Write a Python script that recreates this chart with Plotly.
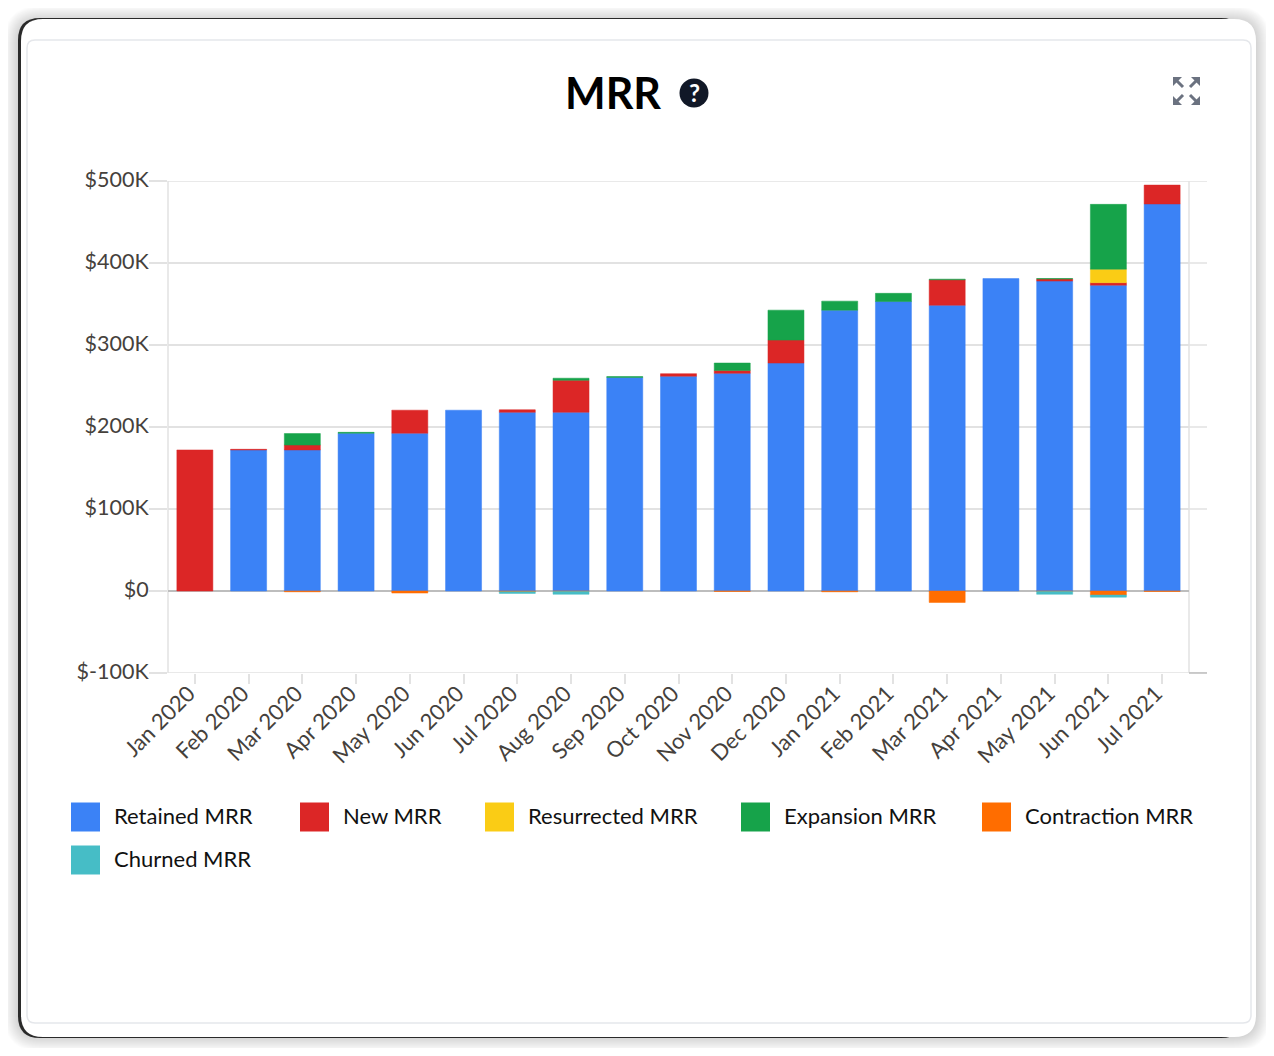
import plotly.graph_objects as go

months = ["Jan 2020", "Feb 2020", "Mar 2020", "Apr 2020", "May 2020", "Jun 2020", "Jul 2020",
          "Aug 2020", "Sep 2020", "Oct 2020", "Nov 2020", "Dec 2020", "Jan 2021", "Feb 2021",
          "Mar 2021", "Apr 2021", "May 2021", "Jun 2021", "Jul 2021"]

# values in $K
retained = [0, 172, 172, 192.5, 192.5, 220.5, 218, 218, 260.5, 262, 265.5, 278, 342.5, 353, 348.5, 381, 378, 373, 472]
new = [172, 0.8, 6, 0, 28, 0, 3, 39, 0, 3, 3.5, 28, 0, 0, 31, 0, 2.5, 3, 23]
resurrected = [0, 0, 0, 0, 0, 0, 0, 0, 0, 0, 0, 0, 0, 0, 0, 0, 0, 16.5, 0]
expansion = [0, 0, 14, 1, 0, 0, 0, 2.5, 1, 0, 9, 36.5, 11, 10, 0.8, 0, 0.5, 79, 0]
contraction = [0, 0, -1, 0, -2.5, 0, -1, -0.5, 0, 0, -0.5, 0, -1, 0, -14, 0, -0.5, -5, -0.5]
churned = [0, 0, 0, 0, 0, 0, -2, -3.5, 0, 0, 0, 0, 0, 0, 0, 0, -3.5, -2.5, 0]

series = [
    ("Retained MRR", retained, "59,130,246"),
    ("New MRR", new, "220,38,38"),
    ("Resurrected MRR", resurrected, "250,204,21"),
    ("Expansion MRR", expansion, "22,163,74"),
    ("Contraction MRR", contraction, "255,109,0"),
    ("Churned MRR", churned, "70,189,198"),
]
y_ticks = [-100, 0, 100, 200, 300, 400, 500]
y_labels = ["$-100K", "$0", "$100K", "$200K", "$300K", "$400K", "$500K"]

# the page keeps its 8px body margin
W, H = 1258, 1040
OFF = 8
L, R, T, B = 168, 1189, 181, 673
FONT = "Lato"
GRID = "#e2e2e2"


# paper coordinates run over the plot area, so window pixels are mapped onto it
def px(x):
    return (x - L) / (R - L)


def py(y):
    return (B - y) / (B - T)


def rounded(x0, y0, x1, y1, r):
    return (f"M{px(x0 + r)},{py(y0)} L{px(x1 - r)},{py(y0)} Q{px(x1)},{py(y0)} {px(x1)},{py(y0 + r)} "
            f"L{px(x1)},{py(y1 - r)} Q{px(x1)},{py(y1)} {px(x1 - r)},{py(y1)} "
            f"L{px(x0 + r)},{py(y1)} Q{px(x0)},{py(y1)} {px(x0)},{py(y1 - r)} "
            f"L{px(x0)},{py(y0 + r)} Q{px(x0)},{py(y0)} {px(x0 + r)},{py(y0)} Z")


def paper_shape(path, fill="rgba(0,0,0,0)", line=None, width=0, layer="below"):
    return dict(type="path", xref="paper", yref="paper", path=path, fillcolor=fill,
                line=dict(color=line or "rgba(0,0,0,0)", width=width), layer=layer)


def seg(x0, y0, x1, y1, color, width=1.5, layer="above"):
    return dict(type="line", xref="paper", yref="paper", x0=px(x0), y0=py(y0), x1=px(x1), y1=py(y1),
                line=dict(color=color, width=width), layer=layer)


fig = go.Figure()
for name, vals, rgb in series:
    fig.add_trace(go.Bar(x=months, y=[v or None for v in vals], name=name,
                         marker=dict(color=f"rgb({rgb})", line=dict(color=f"rgba({rgb},0.5)", width=1))))

shapes = []
# window shadow
for i in range(14, 0, -1):
    shapes.append(paper_shape(rounded(18 - i, 18 - i + 2, 1256 + i, 1037 + i, 22 + i), fill="rgba(0,0,0,0.011)"))
# dark window edge stops short of the right corners, white sheet on top of it
shapes.append(paper_shape(rounded(18, 18, 1243, 1038, 22), fill="#2a2a2a"))
shapes.append(paper_shape(rounded(21, 19, 1256, 1037, 22), fill="#ffffff"))
shapes.append(paper_shape(rounded(27, 40, 1251, 1023, 8), fill="#ffffff", line="#e5e7eb", width=1.5))

# axis furniture around the plot area
for tick in y_ticks:
    if tick == 0:
        continue
    shapes.append(dict(type="line", xref="paper", yref="y", x0=0, x1=px(R + 18), y0=tick, y1=tick,
                       line=dict(color=GRID, width=1.5), layer="below"))
shapes.append(seg(L, T, L, B, GRID, layer="below"))
shapes.append(seg(R, T, R, B, GRID, layer="below"))
shapes.append(seg(R, B, R + 18, B, "#bdbdbd"))

# help icon
shapes.append(dict(type="circle", xref="paper", yref="paper", x0=px(679.5), x1=px(708.5), y0=py(78.5), y1=py(107.5),
                   fillcolor="#111827", line=dict(width=0), layer="above"))
# expand icon, one corner arrow per quadrant
for cx, cy, dx, dy in [(1173, 77, 1, 1), (1200, 77, -1, 1), (1173, 105, 1, -1), (1200, 105, -1, -1)]:
    tri = (f"M{px(cx)},{py(cy)} L{px(cx + 9 * dx)},{py(cy)} L{px(cx)},{py(cy + 9 * dy)} Z")
    shapes.append(paper_shape(tri, fill="#6b7280", layer="above"))
    shapes.append(seg(cx + 4 * dx, cy + 4 * dy, cx + 10 * dx, cy + 10 * dy, "#6b7280", width=3))

annotations = [
    dict(text="<b>MRR</b>", x=px(613), y=py(93), xref="paper", yref="paper", showarrow=False,
         xanchor="center", yanchor="middle", font=dict(family=FONT, size=43, color="#000000")),
    dict(text="<b>?</b>", x=px(694), y=py(93), xref="paper", yref="paper", showarrow=False,
         xanchor="center", yanchor="middle", font=dict(family=FONT, size=24, color="#ffffff")),
]

# legend, two rows of large swatches
legend_pos = [(71, 817), (300, 817), (485, 817), (741, 817), (982, 817), (71, 860)]
for (name, vals, rgb), (lx, ly) in zip(series, legend_pos):
    shapes.append(dict(type="rect", xref="paper", yref="paper", x0=px(lx), x1=px(lx + 29),
                       y0=py(ly - 14.5), y1=py(ly + 14.5), fillcolor=f"rgb({rgb})", line=dict(width=0)))
    annotations.append(dict(text=name, x=px(lx + 41), y=py(ly - 2), xref="paper", yref="paper",
                            xanchor="left", yanchor="middle", showarrow=False,
                            font=dict(family=FONT, size=22, color="#111111")))

fig.update_layout(
    width=W, height=H,
    barmode="relative", bargap=0.33,
    showlegend=False,
    paper_bgcolor="#ffffff", plot_bgcolor="rgba(0,0,0,0)",
    margin=dict(l=L - OFF, r=W + OFF - R, t=T - OFF, b=H + OFF - B, pad=0),
    shapes=shapes, annotations=annotations,
    font=dict(family=FONT, color="#45413c"),
    xaxis=dict(type="category", categoryorder="array", categoryarray=months, tickangle=-45,
               tickfont=dict(size=22), ticks="outside", ticklen=10, tickcolor=GRID, tickwidth=1.5,
               ticklabelstandoff=-12, ticklabelshift=-6, showgrid=False, showline=False, zeroline=False),
    yaxis=dict(range=[-100, 500], tickvals=y_ticks, ticktext=y_labels, tickfont=dict(size=21.5),
               ticks="outside", ticklen=18, tickcolor=GRID, tickwidth=1.5,
               ticklabelstandoff=-4, ticklabelshift=-2,
               showgrid=True, gridcolor=GRID, gridwidth=1.5,
               zeroline=True, zerolinecolor="#bdbdbd", zerolinewidth=1.5, showline=False),
)

fig.write_html("out.html")
